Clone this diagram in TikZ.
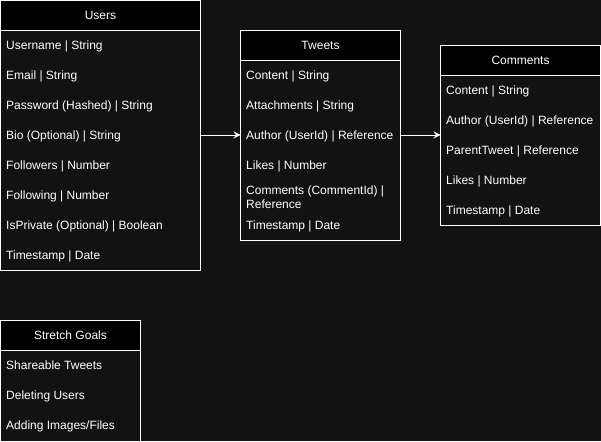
\documentclass[tikz,border=0pt]{standalone}
\usepackage{fontspec}
\setmainfont{Liberation Sans}
\usetikzlibrary{arrows.meta}
\definecolor{bg}{HTML}{121212}
\tikzset{
  tbox/.style={draw=white, line width=1pt, fill=bg, anchor=north west, inner sep=0pt, outer sep=0pt},
  thead/.style={draw=white, line width=1pt, fill=black, anchor=north west, inner sep=0pt, outer sep=0pt,
    text=white, font=\fontsize{12}{14}\selectfont, text height=8.6pt, text depth=0pt},
  trow/.style={anchor=west, inner sep=0pt, text=white, font=\fontsize{12}{14}\selectfont,
    text height=8.6pt, text depth=0pt, align=left},
  link/.style={draw=white, line width=1pt, -{Stealth[length=7pt,width=7pt,inset=2.5pt]}}
}
\begin{document}
\begin{tikzpicture}[x=1pt,y=-1pt]
\useasboundingbox[fill=bg] (0,0) rectangle (601,441);
% Users
\node[tbox, minimum width=200pt, minimum height=270pt] (users) at (0.5,0.5) {};
\node[thead, minimum width=200pt, minimum height=30pt] (usersh) at (0.5,0.5) {Users};
\node[trow] (u1) at (6,45) {Username | String};
\node[trow] (u2) at (6,75) {Email | String};
\node[trow] (u3) at (6,105) {Password (Hashed) | String};
\node[trow] (u4) at (6,135) {Bio (Optional) | String};
\node[trow] (u5) at (6,165) {Followers | Number};
\node[trow] (u6) at (6,195) {Following | Number};
\node[trow] (u7) at (6,225) {IsPrivate (Optional) | Boolean};
\node[trow] (u8) at (6,255) {Timestamp | Date};
% Tweets
\node[tbox, minimum width=160pt, minimum height=210pt] (tweets) at (240.5,30.5) {};
\node[thead, minimum width=160pt, minimum height=30pt] (tweetsh) at (240.5,30.5) {Tweets};
\node[trow] (t1) at (246,75) {Content | String};
\node[trow] (t2) at (246,105) {Attachments | String};
\node[trow] (t3) at (246,135) {Author (UserId) | Reference};
\node[trow] (t4) at (246,165) {Likes | Number};
\node[trow] (t5) at (246,204) {Comments (CommentId) |\\Reference};
\node[trow] (t6) at (246,225) {Timestamp | Date};
% Comments
\node[tbox, minimum width=160pt, minimum height=180pt] (comments) at (440.5,45.5) {};
\node[thead, minimum width=160pt, minimum height=30pt] (commentsh) at (440.5,45.5) {Comments};
\node[trow] (c1) at (446,90) {Content | String};
\node[trow] (c2) at (446,120) {Author (UserId) | Reference};
\node[trow] (c3) at (446,150) {ParentTweet | Reference};
\node[trow] (c4) at (446,180) {Likes | Number};
\node[trow] (c5) at (446,210) {Timestamp | Date};
% Stretch Goals
\node[tbox, minimum width=140pt, minimum height=121pt] (goals) at (0.5,320.5) {};
\node[thead, minimum width=140pt, minimum height=30pt] (goalsh) at (0.5,320.5) {Stretch Goals};
\node[trow] (g1) at (6,365) {Shareable Tweets};
\node[trow] (g2) at (6,395) {Deleting Users};
\node[trow] (g3) at (6,425) {Adding Images/Files};
% connectors
\draw[link] (users.east |- t3.west) -- (tweets.west |- t3.west);
\draw[link] (tweets.east |- t3.west) -- (comments.west |- t3.west);
\end{tikzpicture}
\end{document}
